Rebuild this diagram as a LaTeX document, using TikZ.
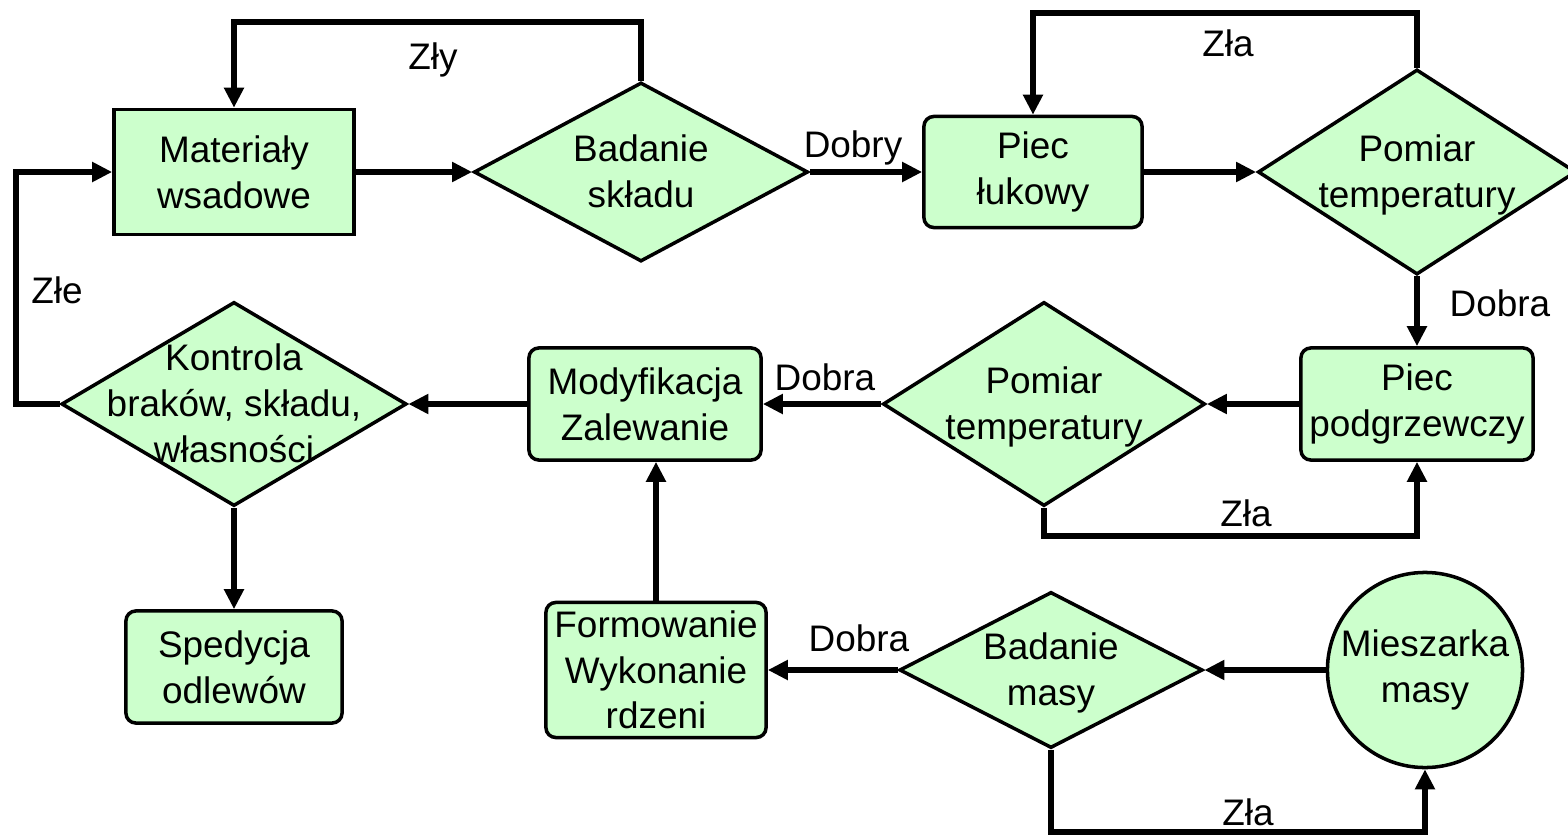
\documentclass[tikz,border=0pt]{standalone}
\usepackage{fontspec}
\setmainfont{Liberation Sans}
\usetikzlibrary{shapes.geometric,arrows.meta}

\definecolor{procgreen}{HTML}{CCFFCC}
% text of a decision node, taking no room, so the diamond keeps its size
\newcommand{\dtext}[1]{\smash{\makebox[0pt]{\raisebox{-0.35em}{\begin{tabular}{@{}c@{}}#1\end{tabular}}}}}

\begin{document}
\begin{tikzpicture}[x=0.01cm, y=-0.01cm,
        font=\fontsize{10.5}{13}\selectfont,
        box/.style={rectangle, draw, fill=procgreen, line width=1pt, align=center, inner sep=1pt},
        rbox/.style={box, rounded corners=2.8pt},
        decision/.style={diamond, draw, fill=procgreen, line width=1pt, inner sep=0pt},
        mixer/.style={circle, draw, fill=procgreen, line width=1pt, inner sep=0pt, align=center, minimum size=1.95cm},
        flow/.style={->, >={Triangle[length=2mm, width=1.9mm]}, line width=1.6pt},
        lbl/.style={inner sep=0pt},
    ]
        \useasboundingbox (0,0) rectangle (1568,836);

        % Row 1: charge, arc furnace
        \node[box, minimum width=2.40cm, minimum height=1.25cm] (mat) at (234,172) {Materiały\\wsadowe};
        \node[decision, minimum width=3.34cm, minimum height=1.79cm] (bsk) at (641,172) {\dtext{Badanie\\składu}};
        \node[rbox, minimum width=2.18cm, minimum height=1.11cm] (pl) at (1033,172) {Piec\\łukowy};
        \node[decision, minimum width=3.18cm, minimum height=2.05cm] (pt1) at (1417,172) {\dtext{Pomiar\\temperatury}};

        % Row 2: holding furnace, pouring, control
        \node[rbox, minimum width=2.32cm, minimum height=1.12cm] (pp) at (1417,404) {Piec\\podgrzewczy};
        \node[decision, minimum width=3.22cm, minimum height=2.04cm] (pt2) at (1044,404) {\dtext{Pomiar\\temperatury}};
        \node[rbox, minimum width=2.32cm, minimum height=1.12cm] (mz) at (645,404) {Modyfikacja\\Zalewanie};
        \node[decision, minimum width=3.45cm, minimum height=2.04cm] (kon) at (234,404) {\dtext{Kontrola\\braków, składu,\\własności}};

        % Row 3: shipping, moulding sand
        \node[rbox, minimum width=2.16cm, minimum height=1.12cm] (sp) at (234,667) {Spedycja\\odlewów};
        \node[rbox, minimum width=2.20cm, minimum height=1.35cm] (fw) at (656,670) {Formowanie\\Wykonanie\\rdzeni};
        \node[decision, minimum width=3.03cm, minimum height=1.56cm] (bm) at (1051,670) {\dtext{Badanie\\masy}};
        \node[mixer] (mm) at (1425,670) {Mieszarka\\masy};

        % bends of the return loops
        \coordinate (zlyTop) at (0,22);
        \coordinate (zlaTop) at (0,13);
        \coordinate (zleLeft) at (16,0);
        \coordinate (zlaMid) at (0,536);
        \coordinate (zlaBot) at (0,832);

        \draw[flow] (mat) -- (bsk);
        \draw[flow] (bsk.north) -- (bsk.north |- zlyTop) -| (mat.north);
        \draw[flow] (bsk) -- (pl);
        \draw[flow] (pl) -- (pt1);
        \draw[flow] (pt1.north) -- (pt1.north |- zlaTop) -| (pl.north);
        \draw[flow] (pt1) -- (pp);
        \draw[flow] (pp) -- (pt2);
        \draw[flow] (pt2.south) -- (pt2.south |- zlaMid) -| (pp.south);
        \draw[flow] (pt2) -- (mz);
        \draw[flow] (mz) -- (kon);
        \draw[flow] (kon.west) -- (kon.west -| zleLeft) |- (mat.west);
        \draw[flow] (kon) -- (sp);
        \draw[flow] (fw.north) -- (fw.north |- mz.south);
        \draw[flow] (bm) -- (fw);
        \draw[flow] (mm) -- (bm);
        \draw[flow] (bm.south) -- (bm.south |- zlaBot) -| (mm.south);

        % branch labels
        \node[lbl] (lZly) at (433,60) {Zły};
        \node[lbl] (lDobry) at (853,148) {Dobry};
        \node[lbl] (lZla1) at (1228,43) {Zła};
        \node[lbl] (lDobra1) at (1500,303) {Dobra};
        \node[lbl] (lZla2) at (1246,513) {Zła};
        \node[lbl] (lDobra2) at (825,377) {Dobra};
        \node[lbl] (lZle) at (57,290) {Złe};
        \node[lbl] (lDobra3) at (859,638) {Dobra};
        \node[lbl] (lZla3) at (1248,812) {Zła};
    \end{tikzpicture}
\end{document}
